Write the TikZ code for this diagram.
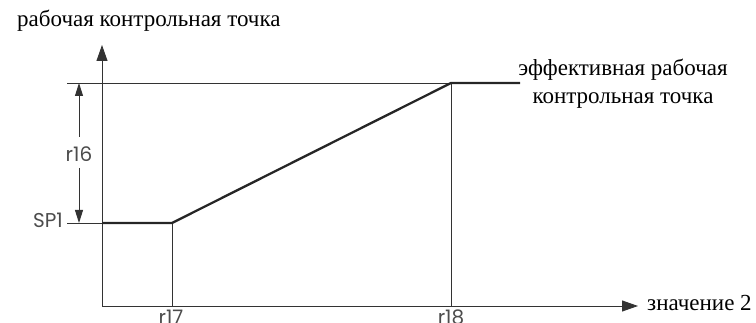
\documentclass[tikz,border=0pt]{standalone}
\usepackage{fontspec}
\setmainfont{Liberation Serif}
\newfontfamily\labelfont{Poppins}
\usetikzlibrary{arrows.meta}
\begin{document}
\begin{tikzpicture}[x=1pt,y=-1pt,
  thinline/.style={line width=0.9pt, draw=black!80},
  thickline/.style={line width=2.3pt, draw=black!85, line join=round},
  axisline/.style={thinline, -{Triangle[length=16pt,width=11pt]}},
  dimline/.style={thinline, -{Triangle[length=13pt,width=8pt]}},
  seriflabel/.style={font=\fontsize{23}{28}\selectfont, inner sep=0pt},
  sanslabel/.style={font=\labelfont\fontsize{20}{24}\selectfont, text=black!70, inner sep=0pt}]
\useasboundingbox (0,0) rectangle (756,323);
% key points
\coordinate (O) at (102,306);
\coordinate (ytop) at (102,45);
\coordinate (xend) at (638,306);
\coordinate (sp) at (102,223);
\coordinate (spleft) at (67,223);
\coordinate (topleft) at (67,83);
\coordinate (k17) at (172,223);
\coordinate (k17b) at (172,306);
\coordinate (k18) at (451,83);
\coordinate (k18b) at (451,306);
\coordinate (plateau) at (520,83);
\coordinate (dtop) at (79,83);
\coordinate (dbot) at (79,223);
% axes
\draw[axisline] (O) -- (ytop);
\draw[axisline] (O) -- (xend);
% reference lines
\draw[thinline] (topleft) -- (k18);
\draw[thinline] (spleft) -- (sp);
\draw[thinline] (k17) -- (k17b);
\draw[thinline] (k18) -- (k18b);
% characteristic
\draw[thickline] (sp) -- (k17) -- (k18) -- (plateau);
% labels
\node[seriflabel, anchor=base west] (ylab) at (17,27) {рабочая контрольная точка};
\node[seriflabel, anchor=base west] (xlab) at (647,311) {значение 2};
\node[seriflabel, align=center] (efflab) at (623,84) {эффективная рабочая\\контрольная точка};
\node[sanslabel] (r16) at (79,154) {r16};
\node[sanslabel, anchor=east] (sp1) at (63,220) {SP1};
\node[sanslabel, anchor=north] (r17) at (171,310) {r17};
\node[sanslabel, anchor=north] (r18) at (451,310) {r18};
% dimension
\coordinate (r16t) at (79,137);
\coordinate (r16b) at (79,168);
\draw[dimline] (r16t) -- (dtop);
\draw[dimline] (r16b) -- (dbot);
\end{tikzpicture}
\end{document}
